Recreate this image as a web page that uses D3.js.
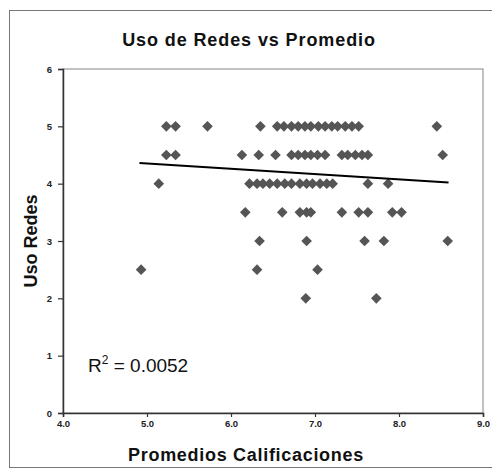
<!DOCTYPE html>
<html><head><meta charset="utf-8">
<script src="https://cdn.jsdelivr.net/npm/d3@7"></script>
<style>body{margin:0;background:#fff}svg{display:block}</style>
</head><body>
<script>
// Data
const promedios = [
  5.23,5.34,5.72,6.35,6.55,6.63,6.72,6.80,6.88,6.95,7.04,7.12,7.20,7.27,7.36,7.44,7.52,8.45,
  5.23,5.34,6.13,6.33,6.53,6.72,6.80,6.88,6.95,7.03,7.12,7.32,7.39,7.48,7.56,7.63,8.52,
  5.14,6.22,6.31,6.38,6.46,6.55,6.64,6.72,6.82,6.90,6.97,7.06,7.14,7.21,7.63,7.87,
  6.17,6.61,6.82,6.90,6.95,7.32,7.52,7.63,7.92,8.03,
  6.34,6.90,7.59,7.82,8.58,
  4.93,6.31,7.03,
  6.89,7.73
];
const usoRedes = [
  5,5,5,5,5,5,5,5,5,5,5,5,5,5,5,5,5,5,
  4.5,4.5,4.5,4.5,4.5,4.5,4.5,4.5,4.5,4.5,4.5,4.5,4.5,4.5,4.5,4.5,4.5,
  4,4,4,4,4,4,4,4,4,4,4,4,4,4,4,4,
  3.5,3.5,3.5,3.5,3.5,3.5,3.5,3.5,3.5,3.5,
  3,3,3,3,3,
  2.5,2.5,2.5,
  2,2
];
const trendX = [4.91, 8.59];
const trendY = [4.36, 4.02];
const xTicks = [4,5,6,7,8,9];
const yTicks = [0,1,2,3,4,5,6];
const title = "Uso de Redes vs Promedio";
const xTitle = "Promedios Calificaciones";
const yTitle = "Uso Redes";
const r2Text = "0.0052";

const W = 492, H = 469;
const svg = d3.select("body").append("svg").attr("width", W).attr("height", H);

// outer chart frame
svg.append("rect").attr("x", 9.5).attr("y", 10.5).attr("width", 490).attr("height", 457)
  .attr("fill", "none").attr("stroke", "#777").attr("stroke-width", 1);

const L = 63, R = 483, T = 69, B = 413;
const x = d3.scaleLinear().domain([4, 9]).range([L, R]);
const y = d3.scaleLinear().domain([0, 6]).range([B, T]);

// plot area border
svg.append("rect").attr("x", L).attr("y", T).attr("width", R - L).attr("height", B - T)
  .attr("fill", "none").attr("stroke", "#999").attr("stroke-width", 1.2);

// axes
const xAxis = d3.axisBottom(x).tickValues(xTicks).tickFormat(d3.format(".1f")).tickSize(4).tickPadding(3);
const yAxis = d3.axisLeft(y).tickValues(yTicks).tickFormat(d3.format("d")).tickSize(5).tickPadding(6);
const gx = svg.append("g").attr("transform", `translate(0,${B})`).call(xAxis);
const gy = svg.append("g").attr("transform", `translate(${L},0)`).call(yAxis);
[gx, gy].forEach(g => {
  g.select(".domain").attr("stroke", "#333").attr("stroke-width", 1.5);
  g.selectAll(".tick line").attr("stroke", "#333").attr("stroke-width", 1.2);
  g.selectAll("text").attr("font-family", "Liberation Sans, Arial, sans-serif")
    .attr("font-size", 9.5).attr("font-weight", "bold").attr("fill", "#222");
});

// points
const pts = promedios.map((v, i) => [v, usoRedes[i]]);
svg.append("g").selectAll("path").data(pts).join("path")
  .attr("d", d3.symbol(d3.symbolDiamond2, 72))
  .attr("transform", d => `translate(${x(d[0])},${y(d[1])})`)
  .attr("fill", "#555");

// trend line
svg.append("line")
  .attr("x1", x(trendX[0])).attr("y1", y(trendY[0]))
  .attr("x2", x(trendX[1])).attr("y2", y(trendY[1]))
  .attr("stroke", "#000").attr("stroke-width", 2.2);

// texts
const ff = "Liberation Sans, Arial, sans-serif";
svg.append("text").attr("x", 249).attr("y", 46).attr("text-anchor", "middle")
  .attr("font-family", ff).attr("font-size", 18).attr("font-weight", "bold").attr("fill", "#111")
  .attr("letter-spacing", 0.9).text(title);
svg.append("text").attr("x", 246).attr("y", 461).attr("text-anchor", "middle")
  .attr("font-family", ff).attr("font-size", 18).attr("font-weight", "bold").attr("fill", "#111")
  .attr("letter-spacing", 0.7).text(xTitle);
svg.append("text").attr("transform", `translate(37,241) rotate(-90)`).attr("text-anchor", "middle")
  .attr("font-family", ff).attr("font-size", 18).attr("font-weight", "bold").attr("fill", "#111")
  .text(yTitle);
const r2 = svg.append("text").attr("x", 88).attr("y", 372)
  .attr("font-family", ff).attr("font-size", 19).attr("fill", "#111");
r2.append("tspan").text("R");
r2.append("tspan").attr("dy", -8).attr("font-size", 12).text("2");
r2.append("tspan").attr("dy", 8).text(" = " + r2Text);
</script>
</body></html>
